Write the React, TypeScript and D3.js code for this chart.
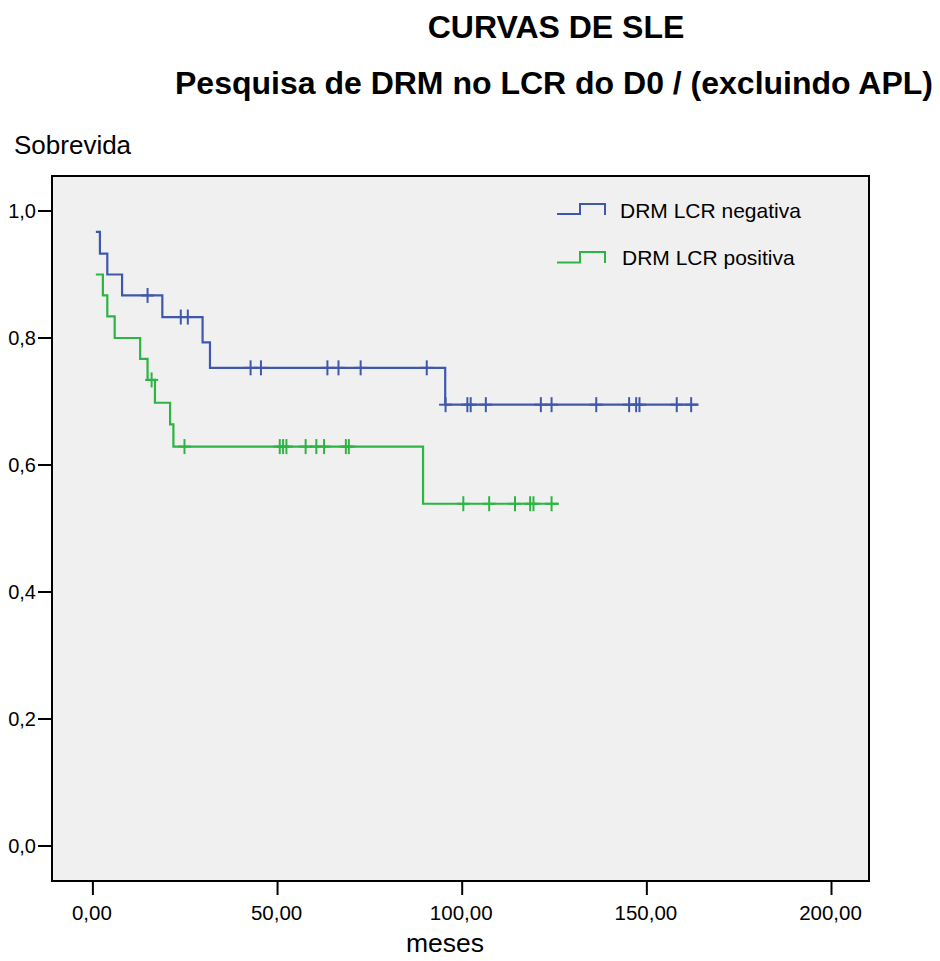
import React from "react";
import * as d3 from "d3";

// ---- Data ----
const negEventTimes = [0.8, 1.9, 3.9, 7.9, 18.8, 29.7, 31.7, 95.4];
const negSurvival = [0.967, 0.933, 0.9, 0.867, 0.833, 0.793, 0.753, 0.695];
const negCensorTimes = [
  14.8, 23.8, 25.7, 42.7, 45.5, 63.5, 66.5, 72.5, 90.4, 95.5, 101.4, 102.3,
  106.4, 121.3, 124.2, 136.3, 145.2, 147.1, 148.0, 158.1, 162.0,
];
const negEnd = 162.0;

const posEventTimes = [0.8, 2.7, 3.9, 5.9, 12.8, 14.8, 16.8, 20.9, 21.8, 89.4];
const posSurvival = [0.9, 0.867, 0.834, 0.8, 0.767, 0.734, 0.698, 0.664, 0.629, 0.539];
const posCensorTimes = [
  15.9, 24.8, 50.6, 51.5, 52.4, 57.6, 60.5, 62.6, 68.5, 69.3, 100.3, 107.3,
  114.3, 118.4, 119.3, 124.2,
];
const posEnd = 124.2;

const xTicks = [0, 50, 100, 150, 200];
const xTickLabels = ["0,00", "50,00", "100,00", "150,00", "200,00"];
const yTicks = [0, 0.2, 0.4, 0.6, 0.8, 1.0];
const yTickLabels = ["0,0", "0,2", "0,4", "0,6", "0,8", "1,0"];

const seriesNames = ["DRM LCR negativa", "DRM LCR positiva"];
const BLUE = "#3e58ac";
const GREEN = "#2cb543";

const W = 940;
const H = 961;
const frame = { left: 52, right: 869, top: 176, bottom: 881 };

const x = d3.scaleLinear().domain([0, 200]).range([92.9, 831.5]);
const y = d3.scaleLinear().domain([0, 1]).range([846, 211]);

function survAt(times: number[], surv: number[], t: number) {
  let s = surv[0];
  for (let i = 0; i < times.length; i++) if (times[i] <= t) s = surv[i];
  return s;
}

function stepPoints(times: number[], surv: number[], end: number): [number, number][] {
  const pts: [number, number][] = [[times[0], surv[0]]];
  for (let i = 1; i < times.length; i++) pts.push([times[i], surv[i]]);
  pts.push([end, surv[surv.length - 1]]);
  return pts;
}

const line = d3
  .line<[number, number]>()
  .x((d) => x(d[0]))
  .y((d) => y(d[1]))
  .curve(d3.curveStepAfter);

function Curve({ times, surv, censors, end, color }: any) {
  const pts = stepPoints(times, surv, end);
  return (
    <g>
      <path d={line(pts) || ""} fill="none" stroke={color} strokeWidth={2.2} />
      {censors.map((c: number, i: number) => {
        const cx = x(c);
        const cy = y(survAt(times, surv, c));
        return (
          <g key={i} stroke={color} strokeWidth={2}>
            <line x1={cx} x2={cx} y1={cy - 7.5} y2={cy + 7.5} />
            <line x1={cx - 6.5} x2={cx + 6.5} y1={cy} y2={cy} />
          </g>
        );
      })}
    </g>
  );
}

export default function App() {
  const font = "'Liberation Sans', Arial, sans-serif";
  return (
    <svg width={W} height={H} style={{ position: "absolute", left: 0, top: 0, background: "#fff" }} fontFamily={font}>
      <rect x={0} y={0} width={W} height={H} fill="#fff" />
      <text x={556} y={38} textAnchor="middle" fontSize={32} fontWeight="bold">CURVAS DE SLE</text>
      <text x={554} y={94} textAnchor="middle" fontSize={32} fontWeight="bold">Pesquisa de DRM no LCR do D0 / (excluindo APL)</text>
      <text x={14} y={154} fontSize={26}>Sobrevida</text>

      <rect x={frame.left} y={frame.top} width={frame.right - frame.left} height={frame.bottom - frame.top} fill="#f0f0f0" stroke="#000" strokeWidth={2} />

      {yTicks.map((t, i) => (
        <g key={i}>
          <line x1={38} x2={frame.left} y1={y(t)} y2={y(t)} stroke="#000" strokeWidth={2} />
          <text x={36} y={y(t) + 7} textAnchor="end" fontSize={20}>{yTickLabels[i]}</text>
        </g>
      ))}
      {xTicks.map((t, i) => (
        <g key={i}>
          <line x1={x(t)} x2={x(t)} y1={frame.bottom} y2={frame.bottom + 14} stroke="#000" strokeWidth={2} />
          <text x={x(t) - 1} y={920} textAnchor="middle" fontSize={20.5}>{xTickLabels[i]}</text>
        </g>
      ))}
      <text x={445} y={952} textAnchor="middle" fontSize={26.5}>meses</text>

      <Curve times={negEventTimes} surv={negSurvival} censors={negCensorTimes} end={negEnd + 2} color={BLUE} />
      <Curve times={posEventTimes} surv={posSurvival} censors={posCensorTimes} end={posEnd + 2} color={GREEN} />

      {/* legend */}
      <g fill="none" strokeWidth={2}>
        <path d="M557,214 H580 V204 H605 V215" stroke={BLUE} />
        <path d="M557,262.5 H580 V252 H605 V263" stroke={GREEN} />
      </g>
      <text x={620} y={218} fontSize={21}>{seriesNames[0]}</text>
      <text x={622} y={265} fontSize={21}>{seriesNames[1]}</text>
    </svg>
  );
}
